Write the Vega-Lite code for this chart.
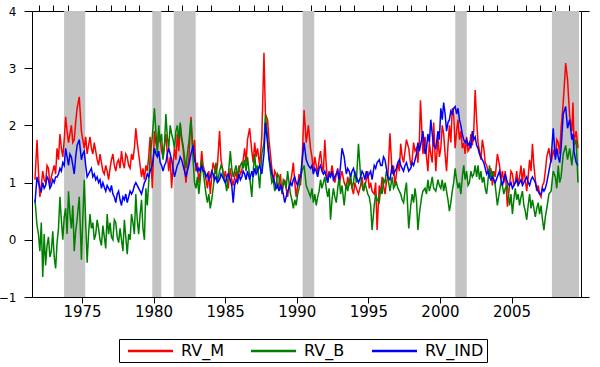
{
  "$schema": "https://vega.github.io/schema/vega-lite/v6.json",
  "width": 549,
  "height": 286,
  "autosize": {"type": "none"},
  "padding": {"left": 32, "top": 11, "right": 19, "bottom": 70},
  "background": "white",
  "config": {
    "view": {"stroke": "black", "strokeWidth": 1},
    "axis": {"grid": false, "domain": false, "tickColor": "black", "labelColor": "black", "labelFont": "DejaVu Sans", "title": null, "labelOverlap": false, "labelFlush": false, "labelBound": false},
    "axisX": {"labelFontSize": 15, "tickSize": 6, "labelPadding": 1}
  },
  "datasets": {
    "rec": [
      {"s": 1973.75, "e": 1975.23},
      {"s": 1979.91, "e": 1980.54},
      {"s": 1981.41, "e": 1982.94},
      {"s": 1990.41, "e": 1991.22},
      {"s": 2001.07, "e": 2001.87},
      {"s": 2007.82, "e": 2009.71}
    ],
    "rv": [
      {"t": 1971.72, "m": 1.05, "b": 0.7, "i": 0.65},
      {"t": 1971.86, "m": 1.75, "b": 0.25, "i": 1.1},
      {"t": 1971.96, "m": 1.2, "b": 0.1, "i": 1.0},
      {"t": 1972.06, "m": 0.75, "b": -0.2, "i": 0.9},
      {"t": 1972.16, "m": 0.95, "b": 0.3, "i": 0.85},
      {"t": 1972.26, "m": 1.2, "b": -0.65, "i": 1.0},
      {"t": 1972.36, "m": 1.05, "b": 0.1, "i": 0.9},
      {"t": 1972.46, "m": 1.0, "b": -0.45, "i": 0.95},
      {"t": 1972.56, "m": 1.3, "b": -0.1, "i": 1.1},
      {"t": 1972.66, "m": 1.25, "b": 0.05, "i": 1.05},
      {"t": 1972.76, "m": 0.95, "b": -0.3, "i": 0.9},
      {"t": 1972.86, "m": 1.1, "b": -0.2, "i": 0.95},
      {"t": 1972.96, "m": 1.2, "b": 0.15, "i": 1.05},
      {"t": 1973.06, "m": 1.3, "b": -0.3, "i": 1.0},
      {"t": 1973.16, "m": 1.15, "b": -0.5, "i": 1.1},
      {"t": 1973.26, "m": 1.6, "b": -0.05, "i": 1.1},
      {"t": 1973.36, "m": 1.4, "b": 0.2, "i": 1.15},
      {"t": 1973.46, "m": 1.85, "b": 0.75, "i": 1.25},
      {"t": 1973.56, "m": 1.6, "b": 0.35, "i": 1.2},
      {"t": 1973.66, "m": 1.45, "b": 0.0, "i": 1.35},
      {"t": 1973.76, "m": 1.75, "b": 0.4, "i": 1.3},
      {"t": 1973.86, "m": 2.15, "b": 0.55, "i": 1.6},
      {"t": 1973.96, "m": 1.9, "b": 0.1, "i": 1.45},
      {"t": 1974.06, "m": 1.7, "b": 0.85, "i": 1.3},
      {"t": 1974.16, "m": 1.85, "b": 0.45, "i": 1.5},
      {"t": 1974.26, "m": 2.0, "b": 0.2, "i": 1.45},
      {"t": 1974.36, "m": 1.7, "b": 0.6, "i": 1.3},
      {"t": 1974.46, "m": 1.75, "b": -0.2, "i": 1.15},
      {"t": 1974.56, "m": 2.05, "b": 0.15, "i": 1.45},
      {"t": 1974.66, "m": 2.3, "b": 0.35, "i": 1.65},
      {"t": 1974.81, "m": 2.5, "b": 0.75, "i": 1.75},
      {"t": 1974.96, "m": 1.9, "b": -0.35, "i": 1.4},
      {"t": 1975.06, "m": 1.75, "b": 0.4, "i": 1.5},
      {"t": 1975.16, "m": 1.6, "b": 1.05, "i": 1.55},
      {"t": 1975.26, "m": 1.8, "b": 0.3, "i": 1.3},
      {"t": 1975.36, "m": 1.5, "b": -0.4, "i": 1.1},
      {"t": 1975.46, "m": 1.65, "b": 0.1, "i": 1.15},
      {"t": 1975.56, "m": 1.8, "b": 0.45, "i": 1.2},
      {"t": 1975.66, "m": 1.6, "b": 0.2, "i": 1.25},
      {"t": 1975.76, "m": 1.5, "b": 0.3, "i": 1.1},
      {"t": 1975.86, "m": 1.7, "b": 0.0, "i": 1.15},
      {"t": 1975.96, "m": 1.55, "b": 0.1, "i": 1.05},
      {"t": 1976.06, "m": 1.4, "b": 0.35, "i": 1.1},
      {"t": 1976.16, "m": 1.3, "b": 0.2, "i": 1.0},
      {"t": 1976.26, "m": 1.5, "b": 0.0, "i": 1.05},
      {"t": 1976.36, "m": 1.35, "b": -0.1, "i": 0.9},
      {"t": 1976.46, "m": 1.2, "b": 0.25, "i": 1.0},
      {"t": 1976.56, "m": 1.15, "b": 0.05, "i": 0.92},
      {"t": 1976.66, "m": 1.3, "b": -0.15, "i": 0.85},
      {"t": 1976.76, "m": 1.2, "b": 0.45, "i": 0.95},
      {"t": 1976.86, "m": 1.05, "b": 0.1, "i": 0.9},
      {"t": 1976.96, "m": 1.25, "b": 0.3, "i": 0.85},
      {"t": 1977.06, "m": 1.4, "b": 0.05, "i": 0.95},
      {"t": 1977.16, "m": 1.5, "b": 0.0, "i": 0.8},
      {"t": 1977.26, "m": 1.3, "b": 0.35, "i": 0.75},
      {"t": 1977.36, "m": 1.2, "b": 0.3, "i": 0.65},
      {"t": 1977.46, "m": 1.35, "b": 0.05, "i": 0.8},
      {"t": 1977.56, "m": 1.4, "b": -0.05, "i": 0.85},
      {"t": 1977.66, "m": 1.25, "b": 0.2, "i": 0.7},
      {"t": 1977.76, "m": 1.55, "b": 0.0, "i": 0.6},
      {"t": 1977.86, "m": 1.35, "b": -0.2, "i": 0.75},
      {"t": 1977.96, "m": 1.25, "b": 0.35, "i": 0.7},
      {"t": 1978.06, "m": 1.5, "b": 0.05, "i": 0.8},
      {"t": 1978.16, "m": 1.45, "b": -0.25, "i": 0.65},
      {"t": 1978.26, "m": 1.3, "b": 0.1, "i": 0.75},
      {"t": 1978.36, "m": 1.25, "b": 0.0, "i": 0.85},
      {"t": 1978.46, "m": 1.5, "b": 0.45, "i": 0.8},
      {"t": 1978.56, "m": 1.4, "b": 0.3, "i": 0.85},
      {"t": 1978.66, "m": 1.6, "b": 0.1, "i": 0.95},
      {"t": 1978.76, "m": 1.95, "b": 0.8, "i": 1.0},
      {"t": 1978.86, "m": 1.7, "b": 0.35, "i": 0.95},
      {"t": 1978.96, "m": 1.5, "b": 0.1, "i": 0.9},
      {"t": 1979.06, "m": 1.3, "b": 0.45, "i": 0.85},
      {"t": 1979.16, "m": 1.1, "b": 0.7, "i": 0.8},
      {"t": 1979.26, "m": 1.25, "b": 0.2, "i": 0.9},
      {"t": 1979.36, "m": 1.05, "b": 0.0, "i": 1.0},
      {"t": 1979.46, "m": 1.3, "b": 0.9, "i": 1.05},
      {"t": 1979.56, "m": 1.2, "b": 0.6, "i": 1.15},
      {"t": 1979.66, "m": 1.45, "b": 1.0, "i": 1.1},
      {"t": 1979.76, "m": 1.8, "b": 1.45, "i": 1.2},
      {"t": 1979.91, "m": 0.9, "b": 1.8, "i": 1.3},
      {"t": 1980.06, "m": 1.9, "b": 2.3, "i": 1.6},
      {"t": 1980.16, "m": 1.7, "b": 1.9, "i": 1.5},
      {"t": 1980.26, "m": 1.6, "b": 1.5, "i": 1.45},
      {"t": 1980.36, "m": 1.9, "b": 2.0, "i": 1.55},
      {"t": 1980.46, "m": 1.75, "b": 1.7, "i": 1.35},
      {"t": 1980.56, "m": 1.55, "b": 1.85, "i": 1.3},
      {"t": 1980.66, "m": 1.45, "b": 1.4, "i": 1.2},
      {"t": 1980.76, "m": 1.65, "b": 1.65, "i": 1.3},
      {"t": 1980.86, "m": 1.85, "b": 2.2, "i": 1.35},
      {"t": 1980.96, "m": 1.5, "b": 1.8, "i": 1.5},
      {"t": 1981.06, "m": 1.2, "b": 1.6, "i": 1.6},
      {"t": 1981.16, "m": 1.45, "b": 2.0, "i": 1.5},
      {"t": 1981.26, "m": 0.9, "b": 1.85, "i": 1.4},
      {"t": 1981.36, "m": 1.3, "b": 1.75, "i": 1.25},
      {"t": 1981.46, "m": 1.6, "b": 1.6, "i": 1.1},
      {"t": 1981.56, "m": 1.4, "b": 1.9, "i": 1.2},
      {"t": 1981.66, "m": 1.85, "b": 2.0, "i": 1.3},
      {"t": 1981.76, "m": 1.55, "b": 1.75, "i": 1.35},
      {"t": 1981.86, "m": 2.0, "b": 2.05, "i": 1.45},
      {"t": 1981.96, "m": 1.75, "b": 1.8, "i": 1.4},
      {"t": 1982.06, "m": 1.6, "b": 1.65, "i": 1.3},
      {"t": 1982.16, "m": 1.3, "b": 1.45, "i": 1.2},
      {"t": 1982.26, "m": 1.0, "b": 1.25, "i": 1.1},
      {"t": 1982.36, "m": 1.25, "b": 1.5, "i": 1.2},
      {"t": 1982.46, "m": 1.4, "b": 1.7, "i": 1.3},
      {"t": 1982.61, "m": 2.15, "b": 2.1, "i": 1.5},
      {"t": 1982.76, "m": 1.5, "b": 1.4, "i": 1.65},
      {"t": 1982.86, "m": 1.75, "b": 1.0, "i": 1.4},
      {"t": 1982.96, "m": 1.2, "b": 0.9, "i": 1.3},
      {"t": 1983.06, "m": 1.35, "b": 1.1, "i": 1.2},
      {"t": 1983.16, "m": 1.0, "b": 0.8, "i": 1.25},
      {"t": 1983.26, "m": 1.2, "b": 1.05, "i": 1.2},
      {"t": 1983.36, "m": 1.55, "b": 1.4, "i": 1.3},
      {"t": 1983.46, "m": 1.3, "b": 1.2, "i": 1.2},
      {"t": 1983.56, "m": 1.2, "b": 1.0, "i": 1.2},
      {"t": 1983.66, "m": 1.05, "b": 0.8, "i": 1.1},
      {"t": 1983.76, "m": 0.9, "b": 0.65, "i": 1.15},
      {"t": 1983.86, "m": 1.2, "b": 0.8, "i": 1.05},
      {"t": 1983.96, "m": 0.8, "b": 0.55, "i": 1.1},
      {"t": 1984.06, "m": 1.1, "b": 0.7, "i": 1.2},
      {"t": 1984.16, "m": 1.35, "b": 0.9, "i": 1.15},
      {"t": 1984.26, "m": 1.25, "b": 1.15, "i": 1.05},
      {"t": 1984.36, "m": 1.15, "b": 1.35, "i": 1.1},
      {"t": 1984.46, "m": 1.3, "b": 1.0, "i": 1.0},
      {"t": 1984.61, "m": 1.9, "b": 1.2, "i": 1.05},
      {"t": 1984.71, "m": 1.4, "b": 1.3, "i": 1.15},
      {"t": 1984.81, "m": 1.25, "b": 1.25, "i": 1.1},
      {"t": 1984.91, "m": 1.05, "b": 1.05, "i": 1.05},
      {"t": 1985.01, "m": 1.2, "b": 1.0, "i": 1.0},
      {"t": 1985.11, "m": 1.05, "b": 0.85, "i": 1.1},
      {"t": 1985.21, "m": 0.9, "b": 1.1, "i": 1.15},
      {"t": 1985.36, "m": 1.25, "b": 1.55, "i": 1.05},
      {"t": 1985.46, "m": 1.05, "b": 1.25, "i": 0.95},
      {"t": 1985.56, "m": 0.95, "b": 1.1, "i": 0.65},
      {"t": 1985.66, "m": 1.1, "b": 1.2, "i": 0.95},
      {"t": 1985.76, "m": 1.2, "b": 1.3, "i": 1.05},
      {"t": 1985.86, "m": 1.0, "b": 1.15, "i": 1.0},
      {"t": 1985.96, "m": 1.3, "b": 1.2, "i": 1.15},
      {"t": 1986.06, "m": 1.15, "b": 1.3, "i": 1.05},
      {"t": 1986.16, "m": 1.2, "b": 1.35, "i": 1.1},
      {"t": 1986.26, "m": 1.4, "b": 1.25, "i": 1.2},
      {"t": 1986.36, "m": 1.6, "b": 1.4, "i": 1.15},
      {"t": 1986.46, "m": 1.35, "b": 1.2, "i": 1.05},
      {"t": 1986.56, "m": 1.75, "b": 1.45, "i": 1.2},
      {"t": 1986.71, "m": 1.95, "b": 1.1, "i": 1.05},
      {"t": 1986.86, "m": 1.55, "b": 0.75, "i": 1.2},
      {"t": 1986.96, "m": 1.35, "b": 1.2, "i": 1.1},
      {"t": 1987.06, "m": 1.7, "b": 1.5, "i": 1.25},
      {"t": 1987.16, "m": 1.45, "b": 1.2, "i": 1.15},
      {"t": 1987.26, "m": 1.6, "b": 1.3, "i": 1.2},
      {"t": 1987.41, "m": 1.3, "b": 0.9, "i": 1.3},
      {"t": 1987.56, "m": 1.8, "b": 1.5, "i": 1.15},
      {"t": 1987.71, "m": 3.27, "b": 1.7, "i": 1.5},
      {"t": 1987.81, "m": 2.2, "b": 2.2, "i": 2.04},
      {"t": 1987.96, "m": 2.1, "b": 1.8, "i": 1.7},
      {"t": 1988.06, "m": 1.75, "b": 1.4, "i": 1.45},
      {"t": 1988.16, "m": 1.5, "b": 1.2, "i": 1.3},
      {"t": 1988.26, "m": 1.25, "b": 1.0, "i": 1.15},
      {"t": 1988.36, "m": 1.0, "b": 1.05, "i": 1.1},
      {"t": 1988.46, "m": 1.2, "b": 0.85, "i": 1.0},
      {"t": 1988.56, "m": 1.15, "b": 0.95, "i": 0.9},
      {"t": 1988.66, "m": 0.9, "b": 1.15, "i": 0.95},
      {"t": 1988.76, "m": 1.0, "b": 1.1, "i": 0.85},
      {"t": 1988.86, "m": 1.15, "b": 0.9, "i": 0.95},
      {"t": 1988.96, "m": 0.8, "b": 0.85, "i": 0.9},
      {"t": 1989.06, "m": 0.95, "b": 1.05, "i": 0.8},
      {"t": 1989.16, "m": 1.05, "b": 1.0, "i": 0.65},
      {"t": 1989.26, "m": 0.9, "b": 0.9, "i": 0.75},
      {"t": 1989.36, "m": 0.75, "b": 1.2, "i": 0.85},
      {"t": 1989.46, "m": 0.95, "b": 1.0, "i": 0.9},
      {"t": 1989.56, "m": 1.0, "b": 0.8, "i": 1.0},
      {"t": 1989.66, "m": 1.15, "b": 0.7, "i": 0.95},
      {"t": 1989.76, "m": 1.35, "b": 0.55, "i": 1.05},
      {"t": 1989.86, "m": 1.0, "b": 0.7, "i": 1.1},
      {"t": 1989.96, "m": 0.75, "b": 0.6, "i": 1.0},
      {"t": 1990.06, "m": 0.95, "b": 0.8, "i": 0.95},
      {"t": 1990.16, "m": 1.15, "b": 0.9, "i": 1.05},
      {"t": 1990.26, "m": 0.95, "b": 1.05, "i": 1.1},
      {"t": 1990.36, "m": 1.3, "b": 1.2, "i": 1.35},
      {"t": 1990.51, "m": 2.27, "b": 1.3, "i": 1.7},
      {"t": 1990.66, "m": 1.7, "b": 0.95, "i": 1.4},
      {"t": 1990.81, "m": 2.0, "b": 0.85, "i": 1.3},
      {"t": 1990.96, "m": 1.6, "b": 0.75, "i": 1.25},
      {"t": 1991.06, "m": 1.45, "b": 0.9, "i": 1.3},
      {"t": 1991.16, "m": 1.2, "b": 0.65, "i": 1.15},
      {"t": 1991.26, "m": 1.45, "b": 0.8, "i": 1.25},
      {"t": 1991.36, "m": 1.3, "b": 0.6, "i": 1.2},
      {"t": 1991.46, "m": 1.15, "b": 0.75, "i": 1.1},
      {"t": 1991.56, "m": 1.4, "b": 0.85, "i": 1.25},
      {"t": 1991.66, "m": 1.55, "b": 1.05, "i": 1.3},
      {"t": 1991.76, "m": 1.3, "b": 0.9, "i": 1.2},
      {"t": 1991.86, "m": 1.2, "b": 1.0, "i": 1.15},
      {"t": 1991.96, "m": 1.75, "b": 1.1, "i": 1.2},
      {"t": 1992.06, "m": 1.3, "b": 0.9, "i": 1.1},
      {"t": 1992.16, "m": 1.0, "b": 0.75, "i": 1.0},
      {"t": 1992.26, "m": 1.2, "b": 0.9, "i": 1.15},
      {"t": 1992.36, "m": 1.1, "b": 0.35, "i": 1.1},
      {"t": 1992.46, "m": 1.3, "b": 0.7, "i": 1.2},
      {"t": 1992.56, "m": 1.15, "b": 0.9, "i": 1.05},
      {"t": 1992.66, "m": 1.0, "b": 0.75, "i": 1.1},
      {"t": 1992.76, "m": 1.15, "b": 0.65, "i": 1.15},
      {"t": 1992.86, "m": 1.25, "b": 0.9, "i": 1.2},
      {"t": 1992.96, "m": 0.95, "b": 1.1, "i": 1.05},
      {"t": 1993.06, "m": 1.1, "b": 0.8, "i": 1.3},
      {"t": 1993.16, "m": 1.2, "b": 0.95, "i": 1.6},
      {"t": 1993.31, "m": 1.0, "b": 0.6, "i": 1.45},
      {"t": 1993.46, "m": 0.9, "b": 1.0, "i": 1.15},
      {"t": 1993.56, "m": 1.1, "b": 0.85, "i": 1.25},
      {"t": 1993.66, "m": 0.95, "b": 1.0, "i": 1.2},
      {"t": 1993.76, "m": 1.05, "b": 1.15, "i": 1.1},
      {"t": 1993.86, "m": 0.9, "b": 0.9, "i": 1.2},
      {"t": 1993.96, "m": 0.8, "b": 1.0, "i": 1.25},
      {"t": 1994.06, "m": 1.0, "b": 1.2, "i": 1.15},
      {"t": 1994.16, "m": 0.9, "b": 1.0, "i": 1.1},
      {"t": 1994.31, "m": 0.8, "b": 1.68, "i": 1.0},
      {"t": 1994.46, "m": 0.95, "b": 1.1, "i": 1.1},
      {"t": 1994.56, "m": 1.1, "b": 0.95, "i": 1.2},
      {"t": 1994.66, "m": 0.85, "b": 0.85, "i": 1.15},
      {"t": 1994.76, "m": 0.95, "b": 1.0, "i": 1.05},
      {"t": 1994.86, "m": 1.05, "b": 0.9, "i": 1.2},
      {"t": 1994.96, "m": 1.2, "b": 0.8, "i": 1.1},
      {"t": 1995.06, "m": 0.9, "b": 0.75, "i": 1.15},
      {"t": 1995.16, "m": 1.0, "b": 0.6, "i": 1.2},
      {"t": 1995.26, "m": 0.85, "b": 0.17, "i": 1.05},
      {"t": 1995.41, "m": 0.8, "b": 0.6, "i": 1.3},
      {"t": 1995.51, "m": 1.0, "b": 0.8, "i": 1.25},
      {"t": 1995.61, "m": 0.17, "b": 0.7, "i": 1.35},
      {"t": 1995.76, "m": 0.95, "b": 0.65, "i": 1.4},
      {"t": 1995.86, "m": 0.8, "b": 0.9, "i": 1.3},
      {"t": 1995.96, "m": 1.1, "b": 0.8, "i": 1.3},
      {"t": 1996.06, "m": 0.95, "b": 1.05, "i": 1.45},
      {"t": 1996.16, "m": 0.8, "b": 1.0, "i": 1.4},
      {"t": 1996.26, "m": 1.0, "b": 1.2, "i": 1.25},
      {"t": 1996.36, "m": 1.1, "b": 1.1, "i": 1.1},
      {"t": 1996.51, "m": 1.86, "b": 0.85, "i": 1.05},
      {"t": 1996.66, "m": 1.15, "b": 1.1, "i": 1.3},
      {"t": 1996.76, "m": 1.3, "b": 0.9, "i": 1.15},
      {"t": 1996.86, "m": 0.95, "b": 0.95, "i": 1.2},
      {"t": 1996.96, "m": 1.15, "b": 1.0, "i": 1.25},
      {"t": 1997.06, "m": 1.35, "b": 0.9, "i": 1.35},
      {"t": 1997.16, "m": 1.2, "b": 0.85, "i": 1.4},
      {"t": 1997.26, "m": 1.68, "b": 0.8, "i": 1.3},
      {"t": 1997.36, "m": 1.45, "b": 0.7, "i": 1.25},
      {"t": 1997.46, "m": 1.35, "b": 0.65, "i": 1.2},
      {"t": 1997.56, "m": 1.55, "b": 0.85, "i": 1.3},
      {"t": 1997.66, "m": 1.75, "b": 1.0, "i": 1.35},
      {"t": 1997.82, "m": 1.6, "b": 0.2, "i": 1.2},
      {"t": 1997.96, "m": 1.3, "b": 0.6, "i": 1.25},
      {"t": 1998.06, "m": 1.4, "b": 0.8, "i": 1.35},
      {"t": 1998.16, "m": 1.7, "b": 0.65, "i": 1.3},
      {"t": 1998.26, "m": 1.55, "b": 0.9, "i": 1.4},
      {"t": 1998.36, "m": 1.6, "b": 0.7, "i": 1.5},
      {"t": 1998.46, "m": 1.35, "b": 0.17, "i": 1.7},
      {"t": 1998.56, "m": 1.7, "b": 0.45, "i": 1.55},
      {"t": 1998.64, "m": 2.44, "b": 0.6, "i": 1.65},
      {"t": 1998.72, "m": 2.0, "b": 0.75, "i": 1.75},
      {"t": 1998.81, "m": 1.5, "b": 0.85, "i": 1.9},
      {"t": 1998.96, "m": 1.8, "b": 0.9, "i": 1.5},
      {"t": 1999.06, "m": 1.45, "b": 0.8, "i": 1.6},
      {"t": 1999.16, "m": 1.2, "b": 1.05, "i": 1.85},
      {"t": 1999.26, "m": 1.7, "b": 0.85, "i": 1.7},
      {"t": 1999.36, "m": 1.5, "b": 0.95, "i": 2.1},
      {"t": 1999.46, "m": 1.35, "b": 1.1, "i": 1.85},
      {"t": 1999.56, "m": 2.05, "b": 0.9, "i": 1.65},
      {"t": 1999.71, "m": 1.2, "b": 0.85, "i": 1.6},
      {"t": 1999.86, "m": 1.8, "b": 1.05, "i": 1.9},
      {"t": 1999.96, "m": 1.45, "b": 0.95, "i": 1.75},
      {"t": 2000.06, "m": 1.6, "b": 0.9, "i": 2.3},
      {"t": 2000.16, "m": 2.0, "b": 1.05, "i": 2.1},
      {"t": 2000.26, "m": 1.85, "b": 0.85, "i": 2.4},
      {"t": 2000.36, "m": 1.5, "b": 1.0, "i": 2.2},
      {"t": 2000.46, "m": 1.2, "b": 0.85, "i": 1.9},
      {"t": 2000.56, "m": 1.65, "b": 0.7, "i": 2.05},
      {"t": 2000.66, "m": 2.0, "b": 0.5, "i": 2.1},
      {"t": 2000.76, "m": 1.7, "b": 0.65, "i": 2.25},
      {"t": 2000.86, "m": 2.3, "b": 0.85, "i": 2.2},
      {"t": 2000.96, "m": 2.2, "b": 1.0, "i": 2.3},
      {"t": 2001.06, "m": 1.6, "b": 1.25, "i": 2.33},
      {"t": 2001.16, "m": 1.9, "b": 1.05, "i": 2.2},
      {"t": 2001.26, "m": 2.1, "b": 0.9, "i": 2.3},
      {"t": 2001.36, "m": 1.75, "b": 1.0, "i": 2.1},
      {"t": 2001.46, "m": 1.9, "b": 0.8, "i": 2.0},
      {"t": 2001.56, "m": 1.6, "b": 1.1, "i": 1.85},
      {"t": 2001.66, "m": 1.7, "b": 1.3, "i": 1.75},
      {"t": 2001.76, "m": 1.5, "b": 1.05, "i": 1.7},
      {"t": 2001.86, "m": 1.8, "b": 1.2, "i": 1.75},
      {"t": 2001.96, "m": 1.55, "b": 0.95, "i": 1.65},
      {"t": 2002.06, "m": 1.6, "b": 1.0, "i": 1.7},
      {"t": 2002.16, "m": 1.85, "b": 1.2, "i": 1.6},
      {"t": 2002.26, "m": 1.65, "b": 1.1, "i": 1.9},
      {"t": 2002.36, "m": 1.9, "b": 1.15, "i": 1.75},
      {"t": 2002.46, "m": 2.62, "b": 1.3, "i": 1.8},
      {"t": 2002.56, "m": 2.1, "b": 1.1, "i": 1.65},
      {"t": 2002.66, "m": 1.7, "b": 1.3, "i": 1.6},
      {"t": 2002.76, "m": 1.55, "b": 1.05, "i": 1.5},
      {"t": 2002.86, "m": 1.4, "b": 1.2, "i": 1.45},
      {"t": 2002.96, "m": 1.75, "b": 1.0, "i": 1.4},
      {"t": 2003.06, "m": 1.6, "b": 1.1, "i": 1.35},
      {"t": 2003.16, "m": 1.35, "b": 0.9, "i": 1.25},
      {"t": 2003.26, "m": 1.3, "b": 0.8, "i": 1.15},
      {"t": 2003.36, "m": 1.2, "b": 1.05, "i": 1.2},
      {"t": 2003.46, "m": 1.1, "b": 1.3, "i": 1.1},
      {"t": 2003.56, "m": 1.25, "b": 1.1, "i": 1.05},
      {"t": 2003.66, "m": 0.95, "b": 1.2, "i": 1.1},
      {"t": 2003.76, "m": 1.2, "b": 1.05, "i": 1.05},
      {"t": 2003.86, "m": 1.1, "b": 0.95, "i": 1.0},
      {"t": 2004.01, "m": 1.5, "b": 0.6, "i": 1.1},
      {"t": 2004.16, "m": 1.3, "b": 0.85, "i": 1.2},
      {"t": 2004.26, "m": 1.05, "b": 1.0, "i": 1.05},
      {"t": 2004.36, "m": 1.2, "b": 0.95, "i": 0.95},
      {"t": 2004.46, "m": 1.0, "b": 0.8, "i": 1.05},
      {"t": 2004.56, "m": 1.2, "b": 0.9, "i": 1.15},
      {"t": 2004.71, "m": 0.58, "b": 0.95, "i": 1.0},
      {"t": 2004.86, "m": 0.95, "b": 0.6, "i": 0.95},
      {"t": 2004.96, "m": 1.2, "b": 0.8, "i": 1.0},
      {"t": 2005.06, "m": 1.15, "b": 0.45, "i": 0.9},
      {"t": 2005.16, "m": 0.95, "b": 0.7, "i": 0.95},
      {"t": 2005.26, "m": 1.0, "b": 0.9, "i": 1.0},
      {"t": 2005.36, "m": 1.2, "b": 0.7, "i": 1.05},
      {"t": 2005.46, "m": 0.95, "b": 0.8, "i": 0.95},
      {"t": 2005.56, "m": 1.1, "b": 0.6, "i": 1.0},
      {"t": 2005.66, "m": 1.3, "b": 0.75, "i": 1.05},
      {"t": 2005.76, "m": 1.0, "b": 0.85, "i": 0.95},
      {"t": 2005.86, "m": 1.25, "b": 0.6, "i": 1.0},
      {"t": 2005.96, "m": 1.05, "b": 0.5, "i": 1.05},
      {"t": 2006.06, "m": 0.85, "b": 0.35, "i": 1.1},
      {"t": 2006.16, "m": 1.1, "b": 0.6, "i": 1.0},
      {"t": 2006.26, "m": 1.4, "b": 0.8, "i": 0.95},
      {"t": 2006.36, "m": 1.2, "b": 0.55, "i": 1.05},
      {"t": 2006.46, "m": 1.68, "b": 0.7, "i": 1.1},
      {"t": 2006.56, "m": 1.3, "b": 0.55, "i": 1.05},
      {"t": 2006.66, "m": 1.05, "b": 0.4, "i": 1.0},
      {"t": 2006.76, "m": 0.85, "b": 0.55, "i": 0.9},
      {"t": 2006.86, "m": 0.95, "b": 0.65, "i": 0.85},
      {"t": 2006.96, "m": 0.8, "b": 0.45, "i": 0.8},
      {"t": 2007.06, "m": 0.75, "b": 0.6, "i": 0.8},
      {"t": 2007.16, "m": 0.95, "b": 0.35, "i": 0.9},
      {"t": 2007.26, "m": 1.0, "b": 0.17, "i": 0.85},
      {"t": 2007.36, "m": 1.2, "b": 0.4, "i": 0.9},
      {"t": 2007.46, "m": 1.45, "b": 0.55, "i": 1.0},
      {"t": 2007.61, "m": 1.6, "b": 0.8, "i": 1.2},
      {"t": 2007.76, "m": 1.35, "b": 0.85, "i": 1.4},
      {"t": 2007.91, "m": 1.55, "b": 1.2, "i": 1.95},
      {"t": 2008.06, "m": 1.45, "b": 1.1, "i": 1.4},
      {"t": 2008.16, "m": 1.75, "b": 0.9, "i": 1.6},
      {"t": 2008.26, "m": 1.7, "b": 1.3, "i": 1.45},
      {"t": 2008.36, "m": 1.5, "b": 1.0, "i": 1.35},
      {"t": 2008.46, "m": 1.95, "b": 1.1, "i": 1.6},
      {"t": 2008.61, "m": 2.4, "b": 1.5, "i": 2.2},
      {"t": 2008.78, "m": 3.09, "b": 1.65, "i": 2.33},
      {"t": 2008.91, "m": 2.8, "b": 1.4, "i": 1.95},
      {"t": 2009.06, "m": 2.15, "b": 1.6, "i": 2.1},
      {"t": 2009.21, "m": 1.9, "b": 1.3, "i": 1.75},
      {"t": 2009.29, "m": 2.4, "b": 1.5, "i": 1.85},
      {"t": 2009.36, "m": 1.7, "b": 1.65, "i": 1.55},
      {"t": 2009.51, "m": 1.9, "b": 1.75, "i": 1.35},
      {"t": 2009.64, "m": 1.6, "b": 1.0, "i": 1.3}
    ]
  },
  "layer": [
    {
      "data": {"name": "rec"},
      "mark": {"type": "rect", "fill": "#c4c4c4"},
      "encoding": {
        "x": {"field": "s", "type": "quantitative", "title": null,
          "scale": {"domain": [1971.51, 2009.85], "nice": false, "zero": false},
          "axis": {"values": [1975, 1980, 1985, 1990, 1995, 2000, 2005], "format": "d"}
        },
        "x2": {"field": "e"},
        "y": {"datum": 4, "type": "quantitative", "scale": {"domain": [-1, 4], "nice": false, "zero": false}, "axis": null},
        "y2": {"datum": -1}
      }
    },
    {
      "data": {"name": "rv"},
      "mark": {"type": "line", "strokeWidth": 1.5},
      "encoding": {
        "x": {"field": "t", "type": "quantitative", "title": null,
          "axis": {"values": [1972,1973,1974,1976,1977,1978,1979,1981,1982,1983,1984,1986,1987,1988,1989,1991,1992,1993,1994,1996,1997,1998,1999,2001,2002,2003,2004,2006,2007,2008,2009], "labels": false}},
        "y": {"field": "m", "type": "quantitative", "title": null,
          "axis": {"orient": "left", "values": [-1, 0, 1, 2, 3, 4], "labelFontSize": 12, "tickSize": 8, "labelPadding": 8}},
        "color": {"datum": "RV_M", "type": "nominal",
          "scale": {"domain": ["RV_M", "RV_B", "RV_IND"], "range": ["#ff0000", "#008000", "#0000ff"]},
          "legend": {"orient": "none", "legendX": 87, "legendY": 328, "direction": "horizontal", "title": null,
            "symbolType": "M-0.4,0H5.6", "symbolSize": 225, "symbolStrokeWidth": 2.5,
            "labelFont": "DejaVu Sans", "labelFontSize": 16, "labelColor": "black",
            "strokeColor": "black", "fillColor": "white", "padding": 3, "columnPadding": 21, "labelOffset": 41}}
      }
    },
    {
      "data": {"name": "rv"},
      "mark": {"type": "line", "strokeWidth": 1.5},
      "encoding": {
        "x": {"field": "t", "type": "quantitative", "title": null, "axis": null},
        "y": {"field": "b", "type": "quantitative", "title": null, "axis": null},
        "color": {"datum": "RV_B", "type": "nominal"}
      }
    },
    {
      "data": {"name": "rv"},
      "mark": {"type": "line", "strokeWidth": 1.5},
      "encoding": {
        "x": {"field": "t", "type": "quantitative", "title": null, "axis": null},
        "y": {"field": "i", "type": "quantitative", "title": null,
          "axis": {"orient": "right", "values": [-1, 4], "labels": false, "tickSize": 8}},
        "color": {"datum": "RV_IND", "type": "nominal"}
      }
    }
  ],
  "resolve": {"axis": {"x": "independent", "y": "independent"}}
}
